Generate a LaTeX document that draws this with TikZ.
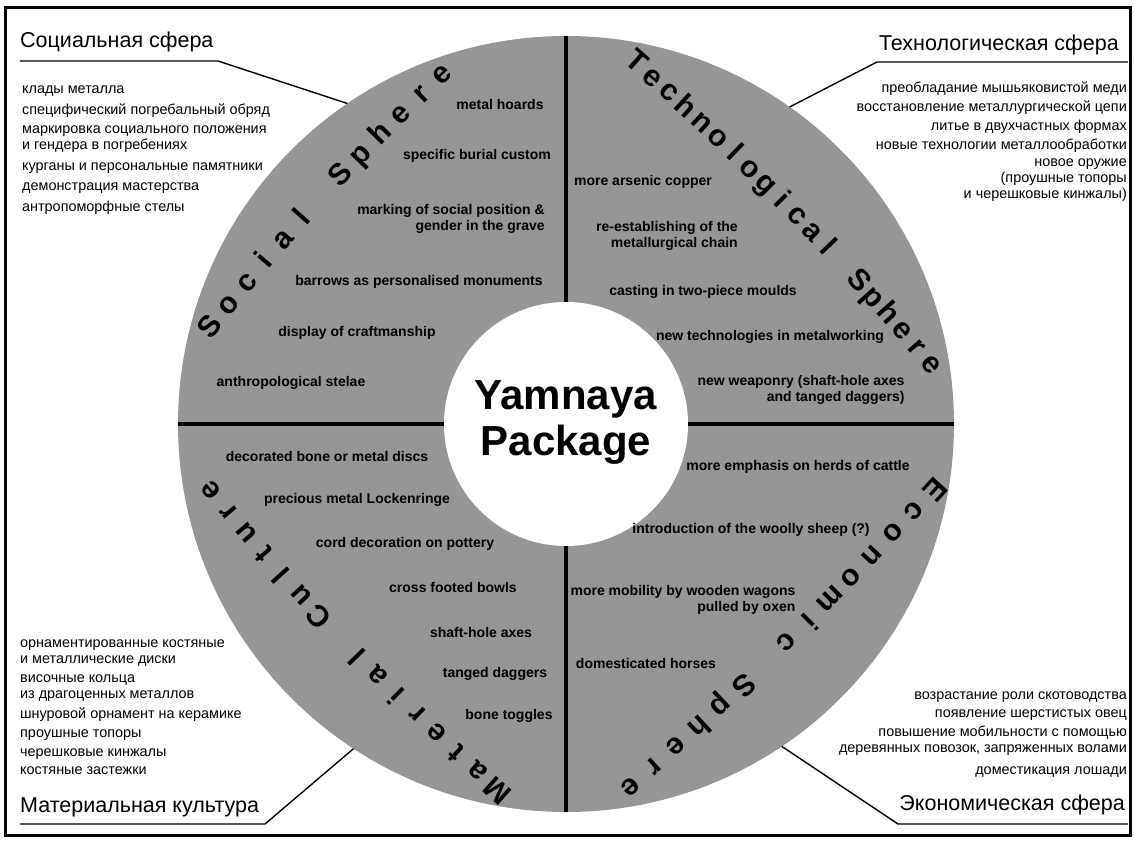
\documentclass[tikz,border=0pt]{standalone}
\usepackage{fontspec}
\setmainfont{Liberation Sans}
\usepackage{tikz}
\usetikzlibrary{calc}
\definecolor{spheregray}{RGB}{150,150,150}
\tikzset{item/.style={font=\fontsize{14}{16}\selectfont\bfseries, inner sep=0pt, align=center}}
\tikzset{rimletter/.style={font=\fontsize{30}{30}\selectfont\bfseries, inner sep=0pt, anchor=base}}
\tikzset{head/.style={font=\fontsize{21.5}{24}\selectfont, inner sep=0pt}}
\tikzset{rulist/.style={font=\fontsize{14.4}{16}\selectfont, inner sep=0pt}}
\tikzstyle{callout} = [line width=1.4pt]
\tikzstyle{divider} = [line width=3.5pt]

% letters set one by one on a gently bowed line along the rim
% #1 name, #2/#3 first baseline point, #4/#5 last one, #6 bow, #7 steps, #8 first index, #9 letters
\newcommand{\rimword}[9]{%
  \foreach \ch [count=\i from #8] in {#9} {
    \pgfmathsetmacro{\rwt}{\i/#7}
    \pgfmathsetmacro{\rwdx}{(#4)-(#2)}
    \pgfmathsetmacro{\rwdy}{(#5)-(#3)}
    \pgfmathsetmacro{\rwlen}{veclen(\rwdx,\rwdy)}
    \pgfmathsetmacro{\rwnx}{-\rwdy/\rwlen}
    \pgfmathsetmacro{\rwny}{\rwdx/\rwlen}
    \pgfmathsetmacro{\rwx}{(#2)+\rwt*\rwdx+4*\rwt*(1-\rwt)*(#6)*\rwnx}
    \pgfmathsetmacro{\rwy}{(#3)+\rwt*\rwdy+4*\rwt*(1-\rwt)*(#6)*\rwny}
    \pgfmathsetmacro{\rwrot}{atan2(\rwdy+(4-8*\rwt)*(#6)*\rwny, \rwdx+(4-8*\rwt)*(#6)*\rwnx)}
    \node[rimletter, rotate=\rwrot] (#1\i) at (\rwx,\rwy) {\ch};
  }}

\begin{document}
\begin{tikzpicture}[x=1pt,y=1pt]
\useasboundingbox (-566,-416) rectangle (568,424);
\draw[line width=3pt] (-560,416) rectangle (564,-411);

% the wheel
\fill[spheregray] (0,0) circle (388);
\fill[white] (0,0) circle (122);
\draw[divider] (90:122) -- (90:388);
\draw[divider] (180:122) -- (180:388);
\draw[divider] (0:122) -- (0:388);
\draw[divider] (270:122) -- (270:388);

\node[font=\fontsize{42}{46}\selectfont\bfseries, align=center, inner sep=0pt] (pkg) at (0,1) {Yamnaya\\Package};

% titles on the rim
\rimword{soc}{-348}{91}{-118}{343}{7}{12}{0}{S,o,c,i,a,l}
\rimword{soc}{-348}{91}{-118}{343}{7}{12}{7}{S,p,h,e,r,e}
\rimword{tec}{64}{355}{359}{54}{8}{19}{0}{T,e,c,h,n,o,l,o,g,i,c,a,l}
\rimword{tec}{64}{355}{359}{54}{8}{19}{14}{S,p,h,e,r,e}
\rimword{eco}{362}{-59}{59}{-357}{6}{14}{0}{E,c,o,n,o,m,i,c}
\rimword{eco}{362}{-59}{59}{-357}{6}{14}{9}{S,p,h,e,r,e}
\rimword{mat}{-62}{-359}{-349}{-61}{8}{15}{0}{M,a,t,e,r,i,a,l}
\rimword{mat}{-62}{-359}{-349}{-61}{8}{15}{9}{C,u,l,t,u,r,e}

% social sphere
\node[item] (hoards) at (-66,319) {metal hoards};
\node[item] (burial) at (-89,268) {specific burial custom};
\node[item, align=right] (marking) at (-115,205) {marking of social position \&\\gender in the grave};
\node[item] (barrows) at (-147,142) {barrows as personalised monuments};
\node[item] (craft) at (-209,91) {display of craftmanship};
\node[item] (stelae) at (-275,41) {anthropological stelae};

% technological sphere
\node[item] (arsenic) at (77,242) {more arsenic copper};
\node[item, align=right] (chain) at (101,188) {re-establishing of the\\metallurgical chain};
\node[item] (moulds) at (137,132) {casting in two-piece moulds};
\node[item] (metalwork) at (204,87) {new technologies in metalworking};
\node[item, align=right] (weapons) at (235,34) {new weaponry (shaft-hole axes\\and tanged daggers)};

% material culture
\node[item] (discs) at (-239,-32) {decorated bone or metal discs};
\node[item] (rings) at (-209,-76) {precious metal Lockenringe};
\node[item] (cord) at (-161,-120) {cord decoration on pottery};
\node[item] (bowls) at (-113,-163) {cross footed bowls};
\node[item] (axes) at (-85,-208) {shaft-hole axes};
\node[item] (daggers) at (-71,-250) {tanged daggers};
\node[item] (toggles) at (-57,-292) {bone toggles};

% economic sphere
\node[item] (cattle) at (232,-43) {more emphasis on herds of cattle};
\node[item] (sheep) at (185,-106) {introduction of the woolly sheep (?)};
\node[item, align=right] (wagons) at (117,-176) {more mobility by wooden wagons\\pulled by oxen};
\node[item] (horses) at (80,-239) {domesticated horses};

% russian captions
\node[head, anchor=west] (socHead) at (-546,382) {Социальная сфера};
\node[head, anchor=east] (tecHead) at (553,379) {Технологическая сфера};
\node[head, anchor=west] (matHead) at (-546,-383) {Материальная культура};
\node[head, anchor=east] (ecoHead) at (559,-381) {Экономическая сфера};

\node[rulist, anchor=north west, align=left] (socList) at (-544,338) {клады металла\\[5pt]
  специфический погребальный обряд\\[3pt]
  маркировка социального положения\\
  и гендера в погребениях\\[5pt]
  курганы и персональные памятники\\[4pt]
  демонстрация мастерства\\[5pt]
  антропоморфные стелы};
\node[rulist, anchor=north east, align=right] (tecList) at (561,342) {преобладание мышьяковистой меди\\[3pt]
  восстановление металлургической цепи\\[3pt]
  литье в двухчастных формах\\[3pt]
  новые технологии металлообработки\\[1pt]
  новое оружие\\
  (проушные топоры\\
  и черешковые кинжалы)};
\node[rulist, anchor=north west, align=left] (matList) at (-546,-216) {орнаментированные костяные\\
  и металлические диски\\[3pt]
  височные кольца\\
  из драгоценных металлов\\[4pt]
  шнуровой орнамент на керамике\\[3pt]
  проушные топоры\\[3pt]
  черешковые кинжалы\\[2pt]
  костяные застежки};
\node[rulist, anchor=north east, align=right] (ecoList) at (561,-268) {возрастание роли скотоводства\\[2pt]
  появление шерстистых овец\\[3pt]
  повышение мобильности с помощью\\
  деревянных повозок, запряженных волами\\[6pt]
  доместикация лошади};

% leader lines
\coordinate (socA) at (-546,363);
\coordinate (socB) at (-348,363);
\coordinate (socTip) at (124.3:388);
\coordinate (tecA) at (562,362);
\coordinate (tecB) at (311,362);
\coordinate (tecTip) at (54.8:388);
\coordinate (matA) at (-546,-400);
\coordinate (matB) at (-301,-400);
\coordinate (matTip) at (236.8:388);
\coordinate (ecoA) at (562,-400);
\coordinate (ecoB) at (332,-400);
\coordinate (ecoTip) at (-56.2:388);
\draw[callout] (socA) -- (socB) -- (socTip);
\draw[callout] (tecA) -- (tecB) -- (tecTip);
\draw[callout] (matA) -- (matB) -- (matTip);
\draw[callout] (ecoA) -- (ecoB) -- (ecoTip);
\end{tikzpicture}
\end{document}
